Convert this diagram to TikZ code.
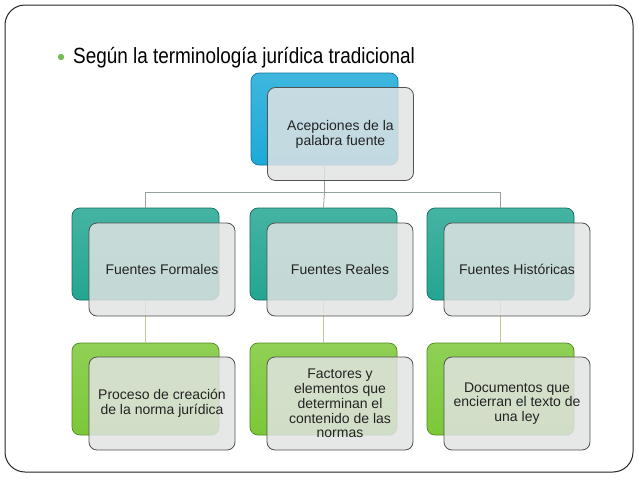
\documentclass[tikz,border=0pt]{standalone}
\usepackage{fontspec}
\setmainfont{Liberation Sans}
\definecolor{blueC}{RGB}{28,170,216}
\definecolor{blueD}{RGB}{18,118,158}
\definecolor{tealC}{RGB}{36,166,146}
\definecolor{tealD}{RGB}{20,108,96}
\definecolor{greenC}{RGB}{124,200,56}
\definecolor{greenD}{RGB}{78,138,30}
\definecolor{frontC}{RGB}{226,227,227}
\definecolor{frontD}{RGB}{82,82,82}
\definecolor{connA}{RGB}{150,160,160}
\definecolor{connB}{RGB}{200,200,150}
\definecolor{bulletC}{RGB}{118,190,82}
\definecolor{txtC}{RGB}{35,35,35}
\tikzset{
  backbox/.style={rectangle, rounded corners=8pt, minimum width=147pt, minimum height=92pt, line width=0.7pt, inner sep=0pt},
  bluebox/.style={backbox, top color=blueC!85!white, bottom color=blueC, draw=blueD},
  tealbox/.style={backbox, top color=tealC!85!white, bottom color=tealC, draw=tealD},
  greenbox/.style={backbox, top color=greenC!85!white, bottom color=greenC, draw=greenD},
  frontbox/.style={rectangle, rounded corners=8pt, minimum width=146pt, minimum height=93pt, fill=frontC, fill opacity=0.84, text opacity=1, draw=frontD, draw opacity=1, line width=0.8pt, align=center, text=txtC, font=\fontsize{14}{14.8}\selectfont, inner sep=2pt},
  connup/.style={draw=connA, line width=0.8pt},
  conndown/.style={draw=connB, line width=0.8pt},
  frame/.style={draw=black!85, line width=1pt, rounded corners=20pt}
}
\begin{document}
\begin{tikzpicture}[x=1pt,y=-1pt]
\useasboundingbox (0,0) rectangle (638,479);
\fill[white] (0,0) rectangle (638,479);
\draw[frame] (5,5) rectangle (633,472);
\fill[bulletC] (61,57) circle (3.2pt);
\node[anchor=base west, inner sep=0pt, text=black, font=\fontsize{22}{26}\selectfont] (title) at (73,63) {\scalebox{0.86}[1]{Según la terminología jurídica tradicional}};
% back boxes
\node[bluebox] (b0) at (324.5,119) {};
\node[tealbox] (b1) at (145.5,254) {};
\node[tealbox] (b2) at (323.5,254) {};
\node[tealbox] (b3) at (500.5,254) {};
\node[greenbox] (c1) at (145.5,389) {};
\node[greenbox] (c2) at (323.5,389) {};
\node[greenbox] (c3) at (500.5,389) {};
% connectors
\draw[connup] (b0.south) -- ++(0,27) coordinate (j0);
\draw[connup] (j0) -| (b1.north);
\draw[connup] (j0) -| (b3.north);
\draw[connup] (j0) -- (b2.north);
\draw[conndown] (b1.south) -- (c1.north);
\draw[conndown] (b2.south) -- (c2.north);
\draw[conndown] (b3.south) -- (c3.north);
% front boxes
\node[frontbox] (f0) at (340.5,134) {\\[-4pt]Acepciones de la\\palabra fuente};
\node[frontbox] (f1) at (162,269.5) {Fuentes Formales};
\node[frontbox] (f2) at (340,269.5) {Fuentes Reales};
\node[frontbox] (f3) at (517,269.5) {Fuentes Históricas};
\node[frontbox] (g1) at (162,403.5) {Proceso de creación\\de la norma jurídica};
\node[frontbox] (g2) at (340,403.5) {Factores y\\elementos que\\determinan el\\contenido de las\\normas};
\node[frontbox] (g3) at (517,403.5) {Documentos que\\encierran el texto de\\una ley};
\end{tikzpicture}
\end{document}
